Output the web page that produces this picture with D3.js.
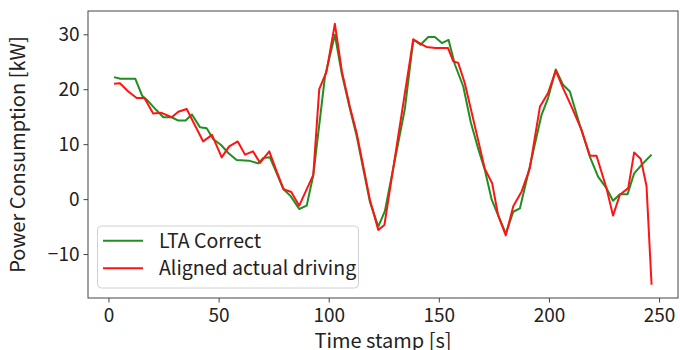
<!DOCTYPE html>
<html>
<head>
<meta charset="utf-8">
<script src="https://cdn.jsdelivr.net/npm/d3@7"></script>
<style>
  html, body { margin: 0; padding: 0; background: #fff; }
  svg { display: block; }
  text { font-family: "Noto Sans CJK JP", "Noto Sans", sans-serif; fill: #222; }
</style>
</head>
<body>
<svg id="chart" width="680" height="350"></svg>
<script>
// ---- data ----
const ltaTime = [2.5,5.4,12.2,15.3,18.1,21.5,24.9,28.7,31.7,35,37.9,41.5,44.6,47.6,51,54.4,58.2,63.8,68,70.3,73.3,76.4,79.3,82.8,86.6,90,93,98.3,102.8,105.9,109.6,112.7,118.7,122.5,125.5,134.6,138.4,141.7,145.2,148.2,151.4,154.4,157.3,161.1,164.5,168,170.9,174,176.9,180.4,183.8,186.8,191.3,196.6,199.6,203.1,206.4,209.5,214,218.6,222.3,226.1,229.1,232.2,235.7,238.7,242,246.6];
const ltaPower = [22.2,21.9,21.9,18.8,17.8,16.3,14.9,14.9,14.3,14.3,15.4,13.1,12.9,10.9,9.9,8.4,7.1,7.0,6.5,7.5,7.6,4.7,1.9,0.5,-1.8,-1.2,4.4,22.3,29.9,22.9,16.5,11.5,-0.5,-5.0,-2.2,16.5,29.0,28.1,29.5,29.5,28.4,29.0,24.5,20.5,14.0,9.0,5.3,-0.1,-2.9,-6.3,-2.3,-1.7,5.9,15.3,18.4,23.6,20.8,19.6,13.5,7.7,4.1,2.0,-0.3,0.9,0.9,4.7,6.2,8.1];

const actualTime = [2.5,5.2,9,12.8,16.3,20.3,24.1,28.7,31.7,35.5,43,47,51.4,54.8,58.7,62,65.6,68.8,73,76.4,79.5,83,86.6,93,95.7,99,102.8,106,109.6,112.7,118.7,122.5,125.3,138.4,142,144.4,148.5,154.2,156.5,158.8,161.8,170.9,174.2,176.9,180.4,183.8,187.6,191.3,195.9,199.6,203.1,206.4,210.3,214.8,218.6,221.6,226.1,229.1,232.2,236,238.7,241.7,244.3,246.6];
const actualPower = [21.0,21.1,19.6,18.4,18.4,15.6,15.7,14.9,15.9,16.4,10.5,11.7,7.6,9.6,10.5,8.1,8.7,6.6,8.7,5.0,1.8,1.3,-1.2,4.4,20.0,23.2,31.9,23.2,16.8,12.0,-0.1,-5.6,-4.7,29.1,28.2,27.7,27.5,27.5,25.1,24.8,21.1,5.5,2.9,-2.9,-6.6,-1.3,1.4,5.6,16.8,19.3,23.4,20.2,16.8,12.6,7.9,7.9,2.0,-3.0,0.8,2.0,8.5,7.3,2.4,-15.6];

const xTicks = [0, 50, 100, 150, 200, 250];
const yTicks = [-10, 0, 10, 20, 30];
const seriesNames = ["LTA Correct", "Aligned actual driving"];
const xLabel = "Time stamp [s]";
const yLabel = "Power Consumption [kW]";

// ---- layout ----
const L = 88, R = 678, T = 11, B = 298;
const svg = d3.select("#chart");

const x = d3.scaleLinear().domain([-9.3, 258.6]).range([L, R]);
const y = d3.scaleLinear().domain([-18, 34.24]).range([B, T]);

const colors = ["#1f8f1f", "#ff1414"];

// axes
const xAxis = svg.append("g").attr("transform", `translate(0,${B})`)
  .call(d3.axisBottom(x).tickValues(xTicks).tickSize(4.5).tickPadding(4).tickFormat(d3.format("d")));
const yAxis = svg.append("g").attr("transform", `translate(${L},0)`)
  .call(d3.axisLeft(y).tickValues(yTicks).tickSize(4.5).tickPadding(4)
    .tickFormat(d => d < 0 ? "\u2212" + Math.abs(d) : String(d)));
[xAxis, yAxis].forEach(g => {
  g.select(".domain").remove();
  g.selectAll(".tick line").attr("stroke", "#444").attr("stroke-width", 1);
  g.selectAll(".tick text").attr("font-size", 19).attr("fill", "#222")
    .style("font-family", '"Noto Sans CJK JP", "Noto Sans", sans-serif');
});
xAxis.selectAll(".tick text").attr("dy", "0.8em");

// frame
svg.append("rect").attr("x", L).attr("y", T).attr("width", R - L).attr("height", B - T)
  .attr("fill", "none").attr("stroke", "#444").attr("stroke-width", 1);

// lines
const line = d3.line().x(d => x(d[0])).y(d => y(d[1]));
const ltaData = ltaTime.map((t, i) => [t, ltaPower[i]]);
const actData = actualTime.map((t, i) => [t, actualPower[i]]);

svg.append("path").datum(ltaData).attr("d", line)
  .attr("fill", "none").attr("stroke", colors[0]).attr("stroke-width", 2).attr("stroke-linejoin", "round");
svg.append("path").datum(actData).attr("d", line)
  .attr("fill", "none").attr("stroke", colors[1]).attr("stroke-width", 2).attr("stroke-linejoin", "round");

// axis labels
svg.append("text").attr("x", (L + R) / 2).attr("y", 348).attr("text-anchor", "middle")
  .attr("font-size", 20).text(xLabel);
svg.append("text").attr("transform", `translate(25,${(T + B) / 2}) rotate(-90)`)
  .attr("text-anchor", "middle").attr("font-size", 20).text(yLabel);

// legend
const lg = svg.append("g");
lg.append("rect").attr("x", 97.5).attr("y", 226).attr("width", 261).attr("height", 62).attr("rx", 4)
  .attr("fill", "#fff").attr("fill-opacity", 0.8).attr("stroke", "#d0d0d0").attr("stroke-width", 1);
const lgY = [240.7, 268.3];
seriesNames.forEach((name, i) => {
  lg.append("line").attr("x1", 103).attr("x2", 143).attr("y1", lgY[i]).attr("y2", lgY[i])
    .attr("stroke", colors[i]).attr("stroke-width", 2);
  lg.append("text").attr("x", 159).attr("y", lgY[i]).attr("dy", "0.35em")
    .attr("font-size", 19.5).text(name);
});
</script>
</body>
</html>
